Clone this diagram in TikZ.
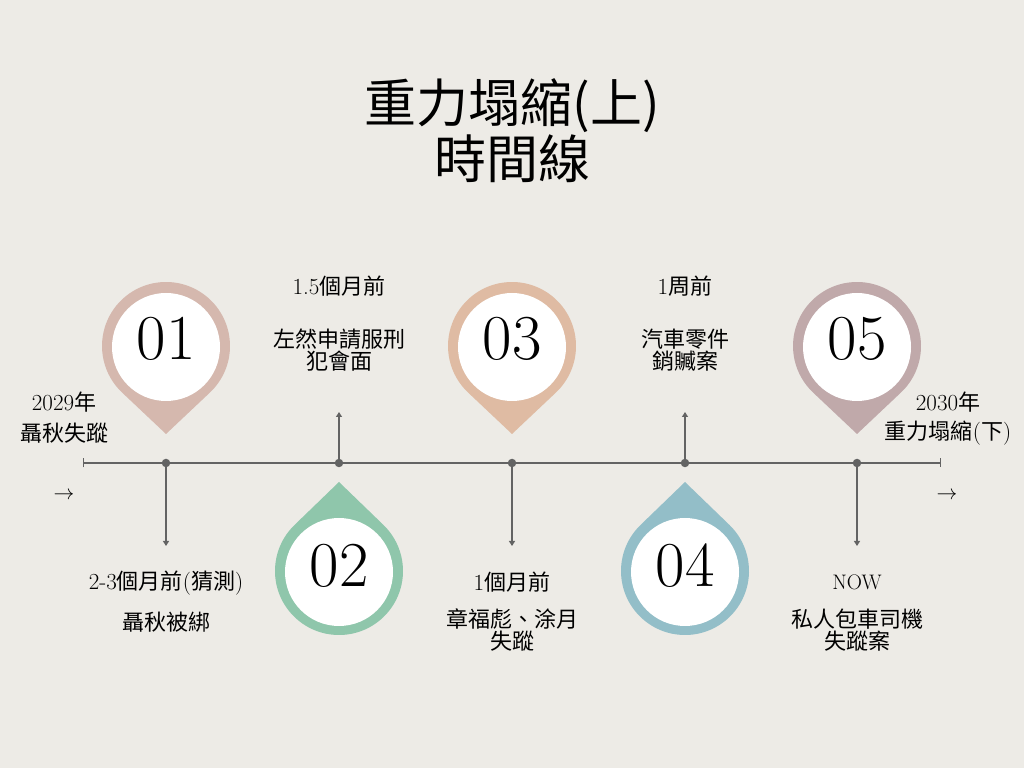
\documentclass[tikz,border=0pt]{standalone}
\usepackage{fontspec}
\newfontfamily\cjk{Noto Sans CJK TC}
\usetikzlibrary{arrows.meta}
\definecolor{bg}{HTML}{EDEBE6}
\definecolor{pinA}{HTML}{D5B8AE}
\definecolor{pinB}{HTML}{8FC6AB}
\definecolor{pinC}{HTML}{DFBBA3}
\definecolor{pinD}{HTML}{93BEC8}
\definecolor{pinE}{HTML}{C0A9AA}
\definecolor{axisgray}{HTML}{636363}
\newcommand\PinDown[4]{%
  \begin{scope}[shift={(#1,422)}]
    \fill[#2] (0,-88) -- (-46.66:64) arc[start angle=-46.66,end angle=226.66,radius=64] -- cycle;
    \fill[white] (0,-1) circle[radius=54];
    \node[bignum] (#3) at (0,7) {#4};
  \end{scope}}
\newcommand\PinUp[4]{%
  \begin{scope}[shift={(#1,197)}]
    \fill[#2] (0,89) -- (134:64) arc[start angle=134,end angle=406,radius=64] -- cycle;
    \fill[white] (0,-1) circle[radius=54];
    \node[bignum] (#3) at (0,5) {#4};
  \end{scope}}
\begin{document}
\begin{tikzpicture}[x=1pt,y=1pt,
  lbl/.style={font=\cjk\fontsize{22}{18.5}\selectfont, inner sep=0pt, align=center, text=black},
  bignum/.style={font=\rmfamily\fontsize{64}{64}\selectfont, inner sep=0pt, text=black},
  axisline/.style={draw=axisgray, line width=1.8pt},
  stem/.style={draw=axisgray, line width=1.6pt, -{Triangle[width=6pt,length=5pt]}},
  dotst/.style={circle, fill=axisgray, inner sep=0pt, minimum size=8.5pt},
]
\fill[bg] (0,0) rectangle (1024,768);
\useasboundingbox (0,0) rectangle (1024,768);

% title
\node[font=\cjk\fontsize{52}{56}\selectfont, align=center, inner sep=0pt] (title) at (512,637) {重力塌縮(上)\\時間線};

% pins
\PinDown{166}{pinA}{n1}{01}
\PinUp{339}{pinB}{n2}{02}
\PinDown{512}{pinC}{n3}{03}
\PinUp{685}{pinD}{n4}{04}
\PinDown{857}{pinE}{n5}{05}

% axis
\coordinate (aL) at (83,305);
\coordinate (aR) at (941,305);
\draw[axisline, {Bar[width=9pt,line width=1.2pt]}-{Bar[width=9pt,line width=1.2pt]}] (aL) -- (aR);

% stems
\node[dotst] (d1) at (166,305) {};
\node[dotst] (d2) at (339,305) {};
\node[dotst] (d3) at (512,305) {};
\node[dotst] (d4) at (685,305) {};
\node[dotst] (d5) at (857,305) {};
\coordinate (e1) at (166,222);
\coordinate (e2) at (339,356);
\coordinate (e3) at (512,222);
\coordinate (e4) at (685,356);
\coordinate (e5) at (857,222);
\draw[stem] (d1.center) -- (e1);
\draw[stem] (d2.center) -- (e2);
\draw[stem] (d3.center) -- (e3);
\draw[stem] (d4.center) -- (e4);
\draw[stem] (d5.center) -- (e5);

% side labels
\node[lbl] (y0) at (64,366) {{\rmfamily\fontsize{23}{23}\selectfont 2029}年};
\node[lbl] (s0) at (64,335) {聶秋失蹤};
\node[lbl] (arL) at (64,272) {$\rightarrow$};
\node[lbl] (y5) at (948,366) {{\rmfamily\fontsize{23}{23}\selectfont 2030}年};
\node[lbl] (s5) at (948,335) {重力塌縮{\rmfamily\fontsize{23}{23}\selectfont (}下{\rmfamily\fontsize{23}{23}\selectfont )}};
\node[lbl] (arR) at (947,272) {$\rightarrow$};

% top labels
\node[lbl] (t2) at (339,482) {{\rmfamily\fontsize{23}{23}\selectfont 1.5}個月前};
\node[lbl] (u2) at (339,418) {左然申請服刑\\犯會面};
\node[lbl] (t4) at (685,482) {{\rmfamily\fontsize{23}{23}\selectfont 1}周前};
\node[lbl] (u4) at (685,418) {汽車零件\\銷贓案};

% bottom labels
\node[lbl] (t1) at (166,185) {{\rmfamily\fontsize{23}{23}\selectfont 2-3}個月前{\rmfamily\fontsize{23}{23}\selectfont (}猜測{\rmfamily\fontsize{23}{23}\selectfont )}};
\node[lbl] (u1) at (166,146) {聶秋被綁};
\node[lbl] (t3) at (512,186) {{\rmfamily\fontsize{23}{23}\selectfont 1}個月前};
\node[lbl] (u3) at (512,138) {章福彪、涂月\\失蹤};
\node[lbl] (t5) at (857,186) {{\rmfamily\fontsize{21}{21}\selectfont NOW}};
\node[lbl] (u5) at (857,138) {私人包車司機\\失蹤案};
\end{tikzpicture}
\end{document}
